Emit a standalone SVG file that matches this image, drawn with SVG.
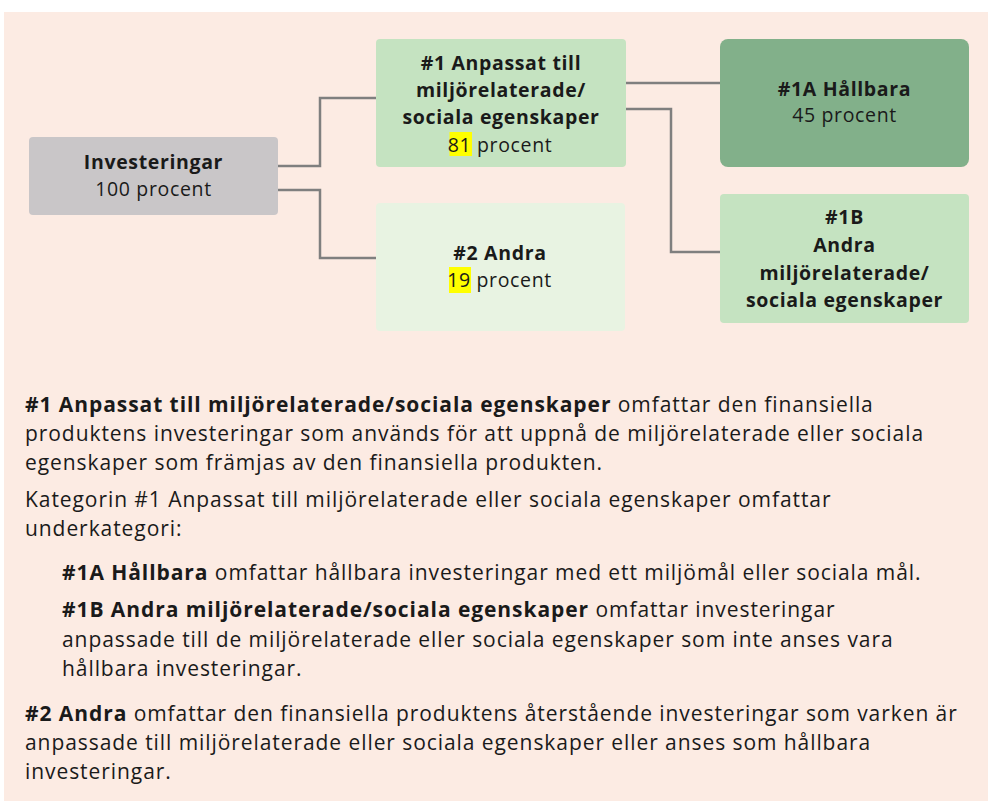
<svg xmlns="http://www.w3.org/2000/svg" width="988" height="805" viewBox="0 0 988 805">
<style>
text{font-family:"Open Sans","Noto Sans","Liberation Sans",sans-serif;fill:#1a1a1a}
.n{font-size:19.5px;text-anchor:middle;letter-spacing:0.65px}
.b{font-weight:bold}
.d{font-size:21px;letter-spacing:0.93px}
.conn{fill:none;stroke:#7f7f7f;stroke-width:2.5}
.hl{fill:#ffff00}
</style>
<rect x="0" y="0" width="988" height="805" fill="#ffffff"/>
<rect x="4" y="12" width="984" height="789" fill="#fcebe3"/>
<g id="connectors">
<path class="conn" d="M278 166 H320 V98 H376"/>
<path class="conn" d="M278 190 H320 V258 H376"/>
<path class="conn" d="M625 83 H720"/>
<path class="conn" d="M625 109 H671 V252 H720"/>
</g>
<g id="investeringar">
<rect x="29" y="137" width="249" height="78" rx="4" fill="#c9c6c8"/>
<text class="n b" x="153.5" y="169">Investeringar</text>
<text class="n" x="153.5" y="196">100 procent</text>
</g>
<g id="n1">
<rect x="376" y="39" width="250" height="128" rx="4" fill="#c5e3c1"/>
<text class="n b" x="501" y="70">#1 Anpassat till</text>
<text class="n b" x="501" y="97">miljörelaterade/</text>
<text class="n b" x="501" y="124">sociala egenskaper</text>
<rect class="hl" x="449.5" y="132" width="22.5" height="24"/>
<text class="n" x="500" y="152">81 procent</text>
</g>
<g id="n2">
<rect x="376" y="203" width="249" height="128" rx="4" fill="#e8f3e2"/>
<text class="n b" x="500" y="260">#2 Andra</text>
<rect class="hl" x="449" y="267" width="22" height="26"/>
<text class="n" x="499.5" y="287">19 procent</text>
</g>
<g id="n1a">
<rect x="720" y="39" width="249" height="128" rx="8" fill="#82b08a"/>
<text class="n b" x="844.5" y="96">#1A Hållbara</text>
<text class="n" x="844.5" y="122">45 procent</text>
</g>
<g id="n1b">
<rect x="720" y="194" width="249" height="129" rx="4" fill="#c5e3c1"/>
<text class="n b" x="844.5" y="224">#1B</text>
<text class="n b" x="844.5" y="252">Andra</text>
<text class="n b" x="844.5" y="280">miljörelaterade/</text>
<text class="n b" x="844.5" y="307">sociala egenskaper</text>
</g>
<g id="description">
<text class="d" x="25" y="412"><tspan class="b">#1 Anpassat till miljörelaterade/sociala egenskaper</tspan> omfattar den finansiella</text>
<text class="d" x="25" y="441">produktens investeringar som används för att uppnå de miljörelaterade eller sociala</text>
<text class="d" x="25" y="470">egenskaper som främjas av den finansiella produkten.</text>
<text class="d" x="25" y="507">Kategorin #1 Anpassat till miljörelaterade eller sociala egenskaper omfattar</text>
<text class="d" x="25" y="536">underkategori:</text>
<text class="d" x="62" y="580"><tspan class="b">#1A Hållbara</tspan> omfattar hållbara investeringar med ett miljömål eller sociala mål.</text>
<text class="d" x="62" y="617"><tspan class="b">#1B Andra miljörelaterade/sociala egenskaper</tspan> omfattar investeringar</text>
<text class="d" x="62" y="647">anpassade till de miljörelaterade eller sociala egenskaper som inte anses vara</text>
<text class="d" x="62" y="676">hållbara investeringar.</text>
<text class="d" x="25" y="721"><tspan class="b">#2 Andra</tspan> omfattar den finansiella produktens återstående investeringar som varken är</text>
<text class="d" x="25" y="750">anpassade till miljörelaterade eller sociala egenskaper eller anses som hållbara</text>
<text class="d" x="25" y="779">investeringar.</text>
</g>
</svg>
